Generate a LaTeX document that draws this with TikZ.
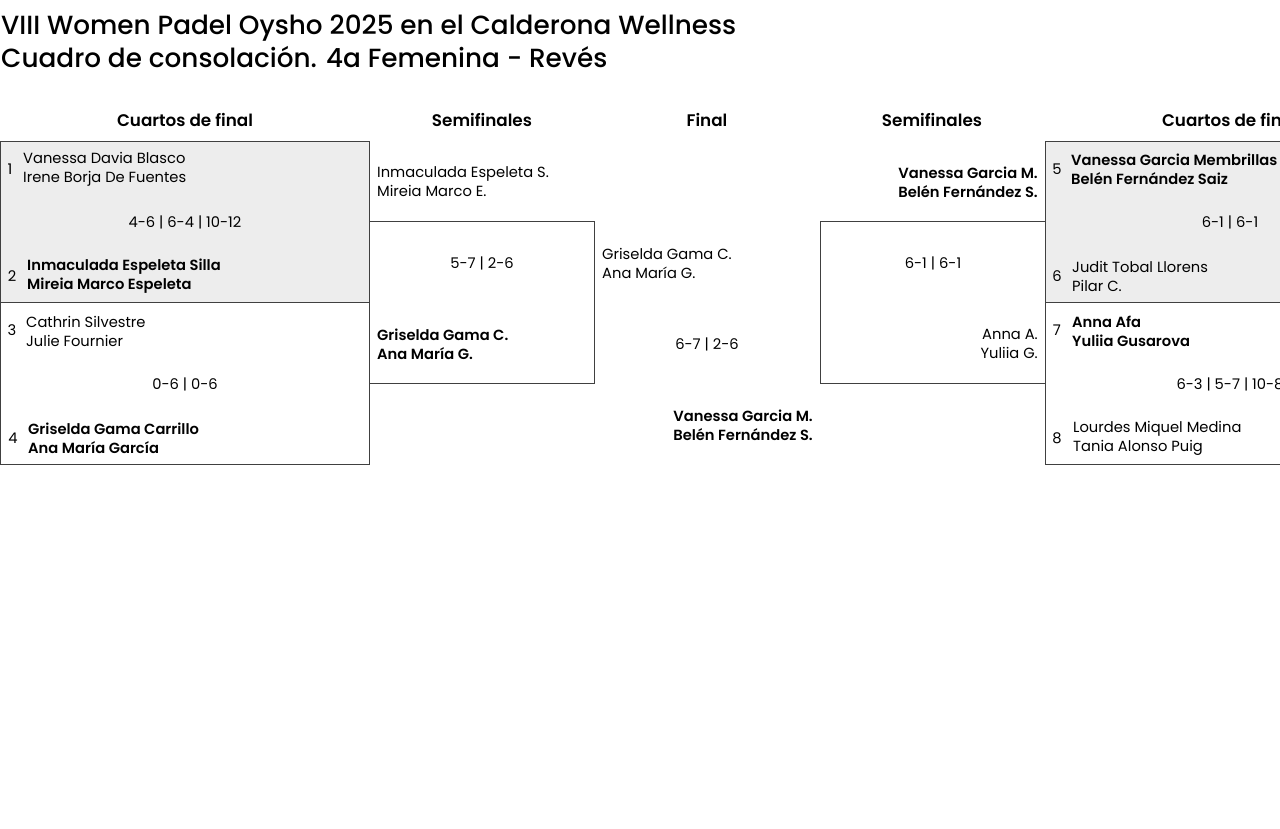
\documentclass[tikz,border=0pt]{standalone}
\usepackage{fontspec}
\setmainfont{Poppins}[BoldFont={Poppins SemiBold}]
\newfontfamily\titlefont{Poppins Medium}
\usepackage{tikz}
\tikzstyle{title}=[anchor=base west, inner sep=0pt, font=\titlefont\fontsize{26.3}{30}\selectfont]
\tikzstyle{header}=[inner sep=0pt, font=\fontsize{16.8}{20}\selectfont\bfseries]
\tikzstyle{qfgray}=[draw=black!75, fill=black!7, line width=0.9pt, minimum width=369pt, minimum height=161pt, inner sep=0pt]
\tikzstyle{qfwhite}=[draw=black!75, fill=white, line width=0.9pt, minimum width=369pt, minimum height=162pt, inner sep=0pt]
\tikzstyle{sfbox}=[draw=black!75, line width=0.9pt, minimum width=225pt, minimum height=162pt, inner sep=0pt]
\tikzstyle{seed}=[inner sep=0pt, font=\fontsize{14.7}{19}\selectfont]
\tikzstyle{pname}=[anchor=west, align=left, inner sep=0pt, font=\fontsize{14.7}{19}\selectfont]
\tikzstyle{pnamer}=[anchor=east, align=right, inner sep=0pt, font=\fontsize{14.7}{19}\selectfont]
\tikzstyle{score}=[inner sep=0pt, font=\fontsize{14.7}{19}\selectfont]

\begin{document}
\begin{tikzpicture}[x=1pt, y=-1pt]
	\clip (0,0) rectangle (1280,829);
	\fill[white] (0,0) rectangle (1280,829);
	\begin{scope}
		\node[title] (t1) at (1,35) {VIII Women Padel Oysho 2025 en el Calderona Wellness};
		\node[title] (t2) at (1,68) {Cuadro de consolación. 4a Femenina - Revés};
		\node[header] (hq1) at (185,120) {Cuartos de final};
		\node[header] (hs1) at (482,120) {Semifinales};
		\node[header] (hf) at (707,120) {Final};
		\node[header] (hs2) at (932,120) {Semifinales};
		\node[header] (hq2) at (1230,120) {Cuartos de final};
	\end{scope}
	\begin{scope}
		\node[qfgray] (m1) at (184.5,221.5) {};
		\node[qfwhite] (m2) at (184.5,383) {};
		\node[sfbox] (s1) at (481.5,302) {};
		\node[sfbox] (s2) at (932.5,302) {};
		\node[qfgray] (m3) at (1229.5,221.5) {};
		\node[qfwhite] (m4) at (1229.5,383) {};
	\end{scope}
	% cuartos izquierda
	\begin{scope}
		\node[seed] (n1) at (10,169) {1};
		\node[pname] (p1) at (23,169) {Vanessa Davia Blasco\\Irene Borja De Fuentes};
		\node[score] (r1) at (185,222) {4-6 | 6-4 | 10-12};
		\node[seed] (n2) at (12,276) {2};
		\node[pname] (p2) at (27,276) {\bfseries Inmaculada Espeleta Silla\\\bfseries Mireia Marco Espeleta};
		\node[seed] (n3) at (12,330) {3};
		\node[pname] (p3) at (26,331) {Cathrin Silvestre\\Julie Fournier};
		\node[score] (r2) at (185,384) {0-6 | 0-6};
		\node[seed] (n4) at (13,438) {4};
		\node[pname] (p4) at (28,438) {\bfseries Griselda Gama Carrillo\\\bfseries Ana María García};
	\end{scope}
	% semifinal izquierda y final
	\begin{scope}
		\node[pname] (p5) at (377,182) {Inmaculada Espeleta S.\\Mireia Marco E.};
		\node[score] (r3) at (482,263) {5-7 | 2-6};
		\node[pname] (p6) at (377,344) {\bfseries Griselda Gama C.\\\bfseries Ana María G.};
		\node[pname] (p7) at (602,263) {Griselda Gama C.\\Ana María G.};
		\node[score] (r4) at (707,344) {6-7 | 2-6};
		\node[pnamer] (p8) at (813,425) {\bfseries Vanessa Garcia M.\\\bfseries Belén Fernández S.};
	\end{scope}
	% semifinal derecha
	\begin{scope}
		\node[pnamer] (p9) at (1038,182) {\bfseries Vanessa Garcia M.\\\bfseries Belén Fernández S.};
		\node[score] (r5) at (933,263) {6-1 | 6-1};
		\node[pnamer] (p10) at (1038,344) {Anna A.\\Yuliia G.};
	\end{scope}
	% cuartos derecha
	\begin{scope}
		\node[seed] (n5) at (1057,169) {5};
		\node[pname] (p11) at (1071,169) {\bfseries Vanessa Garcia Membrillas\\\bfseries Belén Fernández Saiz};
		\node[score] (r6) at (1230,222) {6-1 | 6-1};
		\node[seed] (n6) at (1057,276) {6};
		\node[pname] (p12) at (1072,276) {Judit Tobal Llorens\\Pilar C.};
		\node[seed] (n7) at (1057,330) {7};
		\node[pname] (p13) at (1072,331) {\bfseries Anna Afa\\\bfseries Yuliia Gusarova};
		\node[score] (r7) at (1230,384) {6-3 | 5-7 | 10-8};
		\node[seed] (n8) at (1057,438) {8};
		\node[pname] (p14) at (1073,438) {Lourdes Miquel Medina\\Tania Alonso Puig};
	\end{scope}
\end{tikzpicture}
\end{document}
